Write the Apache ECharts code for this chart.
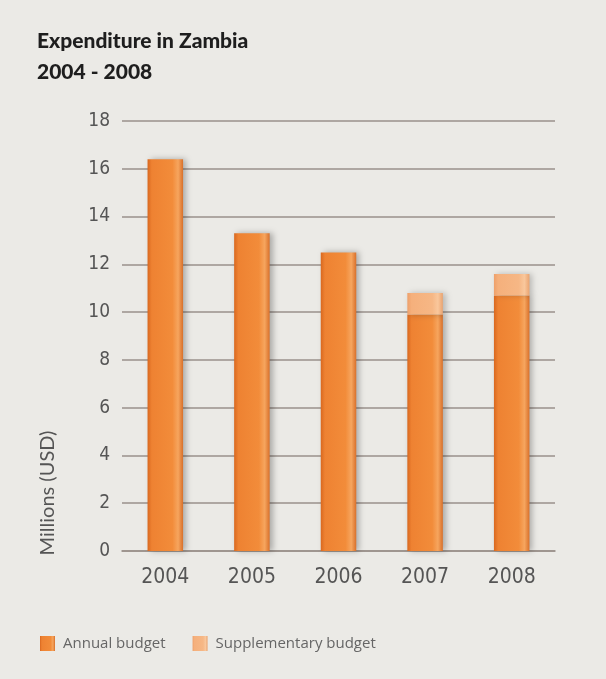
<!DOCTYPE html>
<html>
<head>
<meta charset="utf-8">
<script src="https://cdn.jsdelivr.net/npm/echarts@6/dist/echarts.min.js"></script>
<style>
html,body{margin:0;padding:0;background:#ebeae6;}
#c{width:606px;height:679px;}
</style>
</head>
<body>
<div id="c"></div>
<script>
const categories = ['2004', '2005', '2006', '2007', '2008'];
const annualBudget = [16.4, 13.3, 12.5, 9.9, 10.7];
const supplementaryBudget = [0, 0, 0, 0.9, 0.9];
const yTicks = [0, 2, 4, 6, 8, 10, 12, 14, 16, 18];

const chart = echarts.init(document.getElementById('c'), null, {renderer: 'canvas'});

const narrow = "'DejaVu Sans Condensed', 'Liberation Sans Narrow', Roboto, sans-serif";

const annualColor = new echarts.graphic.LinearGradient(0, 0, 1, 0, [
  {offset: 0, color: '#d9681f'},
  {offset: 0.12, color: '#ee8232'},
  {offset: 0.7, color: '#f28c3a'},
  {offset: 0.86, color: '#f6a55e'},
  {offset: 1, color: '#d8702a'}
]);
const suppColor = new echarts.graphic.LinearGradient(0, 0, 1, 0, [
  {offset: 0, color: '#eea06a'},
  {offset: 0.12, color: '#f5b07c'},
  {offset: 0.7, color: '#f6b785'},
  {offset: 0.86, color: '#f9c79c'},
  {offset: 1, color: '#e9a370'}
]);

chart.setOption({
  backgroundColor: '#ebeae6',
  animation: false,
  title: {
    text: 'Expenditure in Zambia\n2004 - 2008',
    left: 37,
    top: 26,
    padding: 0,
    textStyle: {
      fontFamily: 'Lato',
      fontWeight: 900,
      fontSize: 21,
      lineHeight: 31,
      color: '#1e1e1e'
    }
  },
  legend: {
    left: 40,
    top: 636,
    padding: 0,
    itemWidth: 15,
    itemHeight: 15,
    itemGap: 27,
    icon: 'rect',
    textStyle: {fontFamily: 'Open Sans', fontSize: 15, color: '#666666', padding: [0, 0, 0, 3]},
    data: ['Annual budget', 'Supplementary budget']
  },
  grid: {left: 122, right: 51, top: 121, bottom: 128},
  xAxis: {
    type: 'category',
    data: categories,
    axisLine: {show: true, lineStyle: {color: '#9a918b', width: 1.6}},
    axisTick: {show: false},
    axisLabel: {
      margin: 16,
      fontFamily: narrow,
      fontSize: 21,
      color: '#555555'
    }
  },
  yAxis: {
    type: 'value',
    min: 0,
    max: 18,
    interval: 2,
    axisLine: {show: false},
    axisTick: {show: false},
    axisLabel: {
      margin: 12,
      fontFamily: narrow,
      fontSize: 19,
      color: '#555555',
      formatter: function (v) { return yTicks.indexOf(v) >= 0 ? String(v) : ''; }
    },
    splitLine: {lineStyle: {color: '#9a918b', width: 1.6}}
  },
  graphic: [{
    type: 'text',
    x: 48,
    y: 493,
    rotation: Math.PI / 2,
    style: {
      text: 'Millions (USD)',
      fontFamily: 'Lato',
      fontSize: 20,
      fill: '#555555',
      align: 'center',
      verticalAlign: 'middle'
    }
  }],
  series: [{
    name: 'Annual budget',
    type: 'bar',
    stack: 'total',
    barWidth: '41%',
    data: annualBudget,
    itemStyle: {
      color: annualColor,
      shadowBlur: 6,
      shadowOffsetX: 3,
      shadowOffsetY: 0,
      shadowColor: 'rgba(0,0,0,0.28)'
    }
  }, {
    name: 'Supplementary budget',
    type: 'bar',
    stack: 'total',
    barWidth: '41%',
    data: supplementaryBudget.map(v => v === 0 ? '-' : v),
    itemStyle: {
      color: suppColor,
      shadowBlur: 6,
      shadowOffsetX: 3,
      shadowOffsetY: 0,
      shadowColor: 'rgba(0,0,0,0.22)'
    }
  }]
});
</script>
</body>
</html>
